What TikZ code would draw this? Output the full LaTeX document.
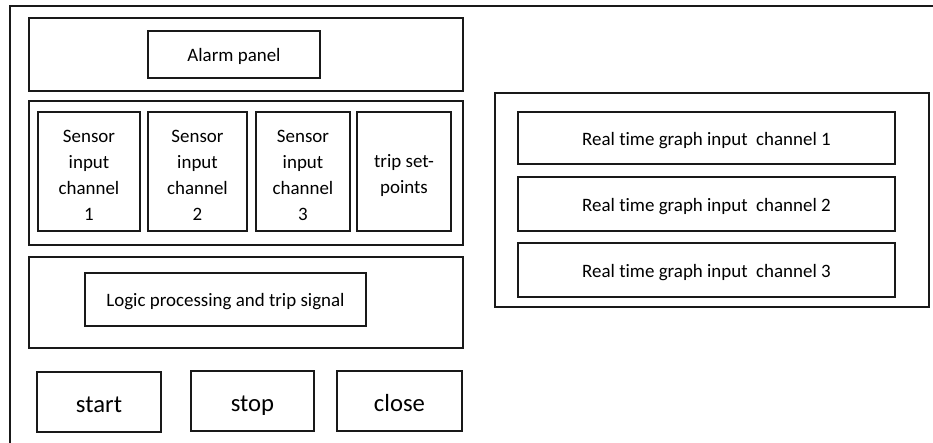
\documentclass[tikz,border=0pt]{standalone}
\usepackage{fontspec}
\setmainfont[Ligatures=NoCommon]{Carlito}
\begin{document}
\begin{tikzpicture}[x=0.75pt,y=-0.75pt,
  span/.style n args={4}{at={({(#1+#3)/2},{(#2+#4)/2})},
    minimum width={(#3-#1)*0.75pt}, minimum height={(#4-#2)*0.75pt}},
  frame/.style={draw=black!90, line width=1.4pt, inner sep=0pt},
  label/.style={frame, align=center, font=\fontsize{14.2}{19.5}\selectfont,
    text height=14pt, text depth=3pt},
  stack/.style={inner sep=0pt, align=center, font=\fontsize{14.2}{19.5}\selectfont},
  button/.style={frame, font=\fontsize{18.5}{22}\selectfont, text height=15pt, text depth=0pt}]
\useasboundingbox (0,0) rectangle (933,443);

% window outline (open to the right and bottom)
\coordinate (wb) at (10,443);
\coordinate (wt) at (10,6);
\coordinate (wr) at (933,6);
\draw[black!90, line width=1.4pt] (wb) -- (wt) -- (wr);

% alarm section
\node[frame, span={29}{18}{463}{91}] (alarmgrp) {};
\node[label, span={148}{31}{320}{78}] (alarm) {Alarm panel};

% sensor inputs and set-points
\node[frame, span={29}{101}{463}{245}] (sensgrp) {};
\node[frame, span={38}{112}{140}{231}] (s1) {};
\node[frame, span={148}{112}{247}{231}] (s2) {};
\node[frame, span={256}{112}{350}{231}] (s3) {};
\node[frame, span={357}{112}{451}{231}] (trip) {};
\node[stack] (s1text) at ([yshift=-3pt]s1.center) {Sensor\\input\\channel\\1};
\node[stack] (s2text) at ([yshift=-3pt]s2.center) {Sensor\\input\\channel\\2};
\node[stack] (s3text) at ([yshift=-3pt]s3.center) {Sensor\\input\\channel\\3};
\node[stack] (triptext) at ([yshift=-3pt]trip.center) {trip set-\\points};

% logic section
\node[frame, span={29}{257}{463}{348}] (logicgrp) {};
\node[label, span={85}{273}{366}{326}] (logic) {Logic processing and trip signal};

% buttons
\node[button, span={37}{372}{161}{432}] (start) {start};
\node[button, span={191}{371}{314}{431}] (stop) {stop};
\node[button, span={337}{371}{462}{431}] (close) {close};

% real time graphs
\node[frame, span={495}{93}{929}{307}] (graphgrp) {};
\node[label, span={518}{112}{895}{164}] (g1) {Real time graph input\ \ channel 1};
\node[label, span={518}{177}{895}{231}] (g2) {Real time graph input\ \ channel 2};
\node[label, span={518}{243}{895}{297}] (g3) {Real time graph input\ \ channel 3};
\end{tikzpicture}
\end{document}
